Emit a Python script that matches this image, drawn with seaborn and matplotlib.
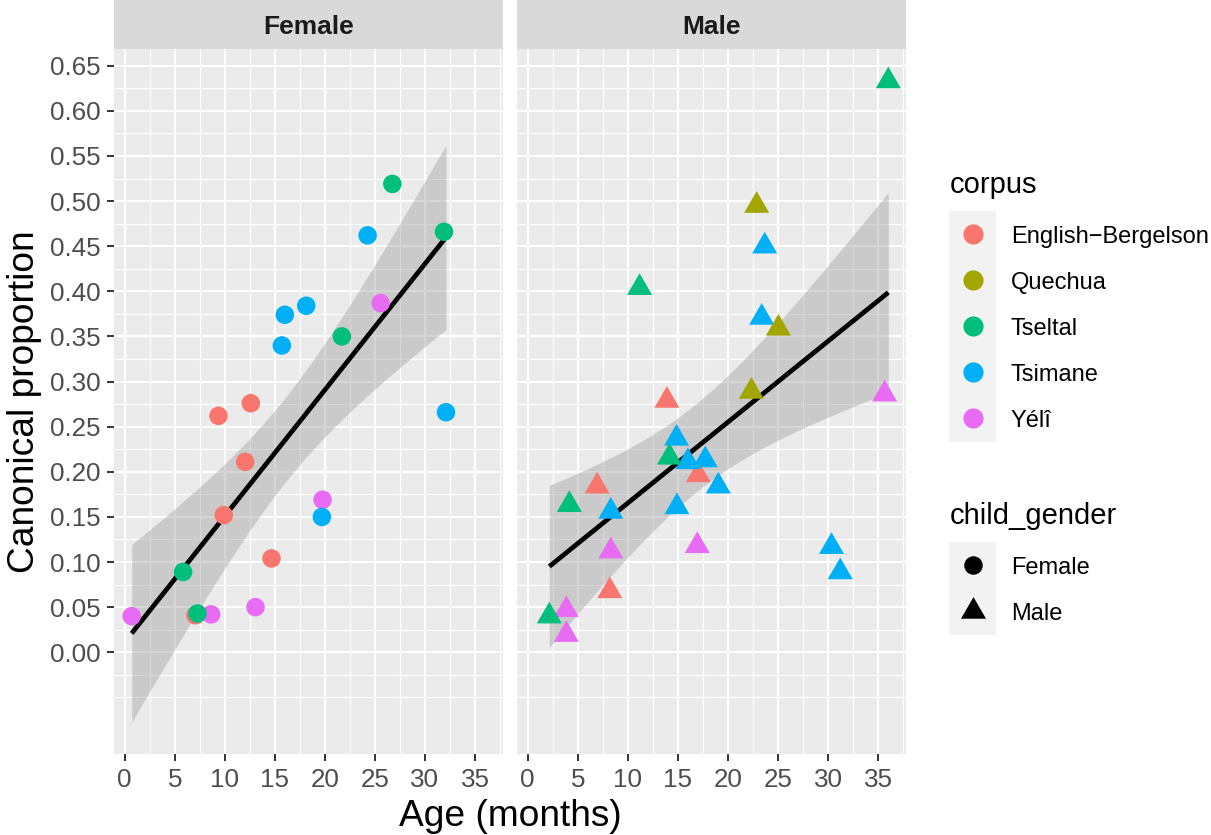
import math
import numpy as np
import pandas as pd
import matplotlib
matplotlib.use("Agg")
import matplotlib.pyplot as plt
import seaborn as sns
from matplotlib.patches import Rectangle
from matplotlib.lines import Line2D
from matplotlib.path import Path

# ---------------- data ----------------
corpora = ["English\u2212Bergelson", "Quechua", "Tseltal", "Tsimane", "Yélî"]
corpus_colors = ["#F8766D", "#A3A500", "#00BF7D", "#00B0F6", "#E76BF3"]
genders = ["Female", "Male"]

# Female children (circles)
female_corpus = (["English\u2212Bergelson"] * 6 + ["Yélî"] * 5 + ["Tsimane"] * 6 + ["Tseltal"] * 5)
female_age = [7.07, 9.37, 9.9, 12.04, 12.6, 14.67,
              0.7, 8.64, 13.07, 19.77, 25.57,
              15.7, 16.0, 18.14, 19.7, 24.27, 32.1,
              5.84, 7.27, 21.7, 26.74, 31.9]
female_prop = [0.041, 0.262, 0.152, 0.211, 0.276, 0.104,
               0.040, 0.042, 0.050, 0.169, 0.387,
               0.340, 0.374, 0.384, 0.150, 0.462, 0.266,
               0.089, 0.043, 0.350, 0.519, 0.466]

# Male children (triangles)
male_corpus = (["English\u2212Bergelson"] * 4 + ["Yélî"] * 5 + ["Tsimane"] * 10 + ["Tseltal"] * 5 + ["Quechua"] * 3)
male_age = [13.9, 17.03, 6.93, 8.2,
            35.63, 16.93, 8.3, 3.86, 3.86,
            23.66, 23.36, 14.86, 16.0, 17.73, 19.03, 8.3, 14.9, 30.33, 31.2,
            36.0, 11.17, 14.16, 4.16, 2.16,
            22.86, 25.03, 22.33]
male_prop = [0.279, 0.1965, 0.184, 0.068,
             0.286, 0.118, 0.112, 0.047, 0.0195,
             0.450, 0.371, 0.237, 0.211, 0.213, 0.184, 0.156, 0.161, 0.117, 0.089,
             0.633, 0.404, 0.216, 0.1635, 0.040,
             0.495, 0.359, 0.289]

y_breaks = [round(0.05 * i, 2) for i in range(14)]
x_breaks = [0, 5, 10, 15, 20, 25, 30, 35]

df = pd.concat([
    pd.DataFrame({"corpus": female_corpus, "age": female_age, "prop": female_prop, "child_gender": "Female"}),
    pd.DataFrame({"corpus": male_corpus, "age": male_age, "prop": male_prop, "child_gender": "Male"}),
], ignore_index=True)
palette = dict(zip(corpora, corpus_colors))

# ---------------- helpers ----------------
def t_ppf(p, dof):
    c = math.exp(math.lgamma((dof + 1) / 2) - math.lgamma(dof / 2)) / math.sqrt(dof * math.pi)
    def cdf(t):
        xs = np.linspace(0, t, 4001)
        return 0.5 + np.trapezoid(c * (1 + xs ** 2 / dof) ** (-(dof + 1) / 2), xs)
    lo, hi = 0.0, 20.0
    for _ in range(60):
        mid = (lo + hi) / 2
        if cdf(mid) < p:
            lo = mid
        else:
            hi = mid
    return (lo + hi) / 2

def lm_band(x, y, n=80):
    x = np.asarray(x, float); y = np.asarray(y, float)
    b1, b0 = np.polyfit(x, y, 1)
    xs = np.linspace(x.min(), x.max(), n)
    yh = b0 + b1 * xs
    resid = y - (b0 + b1 * x)
    dof = len(x) - 2
    s = math.sqrt(np.sum(resid ** 2) / dof)
    sxx = np.sum((x - x.mean()) ** 2)
    se = s * np.sqrt(1 / len(x) + (xs - x.mean()) ** 2 / sxx)
    tq = t_ppf(0.975, dof)
    return xs, yh, yh - tq * se, yh + tq * se

# ---------------- figure ----------------
plt.rcParams["font.family"] = ["Liberation Sans", "DejaVu Sans"]
W, H = 1211, 835
fig = plt.figure(figsize=(W / 100, H / 100), dpi=100)
fig.patch.set_facecolor("white")

def fx(px):
    return px / W

def fy(py):
    return 1 - py / H

top, bottom = 49, 754.3
panels = {"Female": (114, 502.7), "Male": (517, 906)}

tri = Path([(0, 1), (-0.866, -0.5), (0.866, -0.5), (0, 1)],
           [Path.MOVETO, Path.LINETO, Path.LINETO, Path.CLOSEPOLY])
markers = {"Female": "o", "Male": tri}
sizes = {"Female": 178, "Male": 433}

bands = {g: lm_band(df.loc[df.child_gender == g, "age"], df.loc[df.child_gender == g, "prop"]) for g in genders}

# shared limits (ggplot 5% expansion)
xmin, xmax = df.age.min(), df.age.max()
xr = xmax - xmin
ylo = min(df.prop.min(), min(b[2].min() for b in bands.values()))
yhi = max(df.prop.max(), max(b[3].max() for b in bands.values()))
yr = yhi - ylo
xlim = (xmin - 0.05 * xr, xmax + 0.05 * xr)
ylim = (ylo - 0.05 * yr, yhi + 0.05 * yr)

x_minor = [b + 2.5 for b in [-5] + x_breaks]
y_minor = [-0.05] + [round(b + 0.025, 3) for b in [-0.05] + y_breaks]

for g in genders:
    l, r = panels[g]
    ax = fig.add_axes([fx(l), fy(bottom), fx(r - l), (bottom - top) / H])
    ax.set_facecolor("#EBEBEB")
    for sp in ax.spines.values():
        sp.set_visible(False)

    sub = df[df.child_gender == g]
    xs, yh, lo, hi = bands[g]
    ax.fill_between(xs, lo, hi, color="#999999", alpha=0.4, linewidth=0, zorder=2)
    sns.regplot(data=sub, x="age", y="prop", scatter=False, ci=None, ax=ax,
                line_kws=dict(color="black", linewidth=3.4, zorder=3, solid_capstyle="butt"))
    sns.scatterplot(data=sub, x="age", y="prop", hue="corpus", palette=palette,
                    marker=markers[g], s=sizes[g], edgecolor="none", linewidth=0,
                    legend=False, ax=ax, zorder=4)
    ax.set_xlabel("")
    ax.set_ylabel("")

    ax.set_xticks(x_breaks)
    ax.set_xticks(x_minor, minor=True)
    ax.set_yticks(y_breaks)
    ax.set_yticks(y_minor, minor=True)
    ax.set_yticklabels([f"{v:.2f}" for v in y_breaks])
    ax.set_xlim(*xlim)
    ax.set_ylim(*ylim)
    ax.grid(which="major", color="white", linewidth=1.5)
    ax.grid(which="minor", color="white", linewidth=0.8)
    ax.set_axisbelow(True)
    ax.tick_params(which="major", length=4.8, width=1.4, color="#333333",
                   labelsize=18.7, labelcolor="#4D4D4D", pad=5)
    ax.tick_params(which="minor", length=0)
    if g == "Male":
        ax.tick_params(axis="y", which="both", left=False, labelleft=False)

    # facet strip
    fig.patches.append(Rectangle((fx(l), fy(top)), fx(r - l), top / H, transform=fig.transFigure,
                                 facecolor="#D9D9D9", edgecolor="none"))
    fig.text(fx((l + r) / 2), fy(34.3), g, ha="center", va="baseline",
             fontsize=19, fontweight="bold", color="#1A1A1A")

# axis titles
fig.text(fx(510), fy(826), "Age (months)", ha="center", va="baseline", fontsize=26.7, color="black")
fig.text(fx(25), fy(401.5), "Canonical proportion", ha="center", va="center", rotation=90,
         fontsize=26.7, color="black")

# legends (ggplot style)
key_l, key_r, key_h = 949, 996, 46.1
lab_x = 1010.7

fig.text(fx(950), fy(193.3), "corpus", ha="left", va="baseline", fontsize=21)
c_top = 211
fig.patches.append(Rectangle((fx(key_l), fy(c_top + key_h * len(corpora))), fx(key_r - key_l),
                             key_h * len(corpora) / H, transform=fig.transFigure,
                             facecolor="#F2F2F2", edgecolor="none"))
for i, (name, col) in enumerate(zip(corpora, corpus_colors)):
    cy = c_top + key_h * (i + 0.5)
    fig.add_artist(Line2D([fx((key_l + key_r) / 2)], [fy(cy)], transform=fig.transFigure,
                          marker="o", markersize=14.5, color=col, markeredgewidth=0, linestyle="none"))
    fig.text(fx(lab_x), fy(cy + 8.5), name, ha="left", va="baseline", fontsize=17)

fig.text(fx(950), fy(524.3), "child_gender", ha="left", va="baseline", fontsize=21)
g_top = 542.3
fig.patches.append(Rectangle((fx(key_l), fy(g_top + key_h * len(genders))), fx(key_r - key_l),
                             key_h * len(genders) / H, transform=fig.transFigure,
                             facecolor="#F2F2F2", edgecolor="none"))
for i, g in enumerate(genders):
    cy = g_top + key_h * (i + 0.5)
    fig.add_artist(Line2D([fx((key_l + key_r) / 2)], [fy(cy)], transform=fig.transFigure,
                          marker=markers[g], markersize=math.sqrt(sizes[g]), color="black",
                          markeredgewidth=0, linestyle="none"))
    fig.text(fx(lab_x), fy(cy + 8.5), g, ha="left", va="baseline", fontsize=17)

fig.savefig("out.png", dpi=100)
